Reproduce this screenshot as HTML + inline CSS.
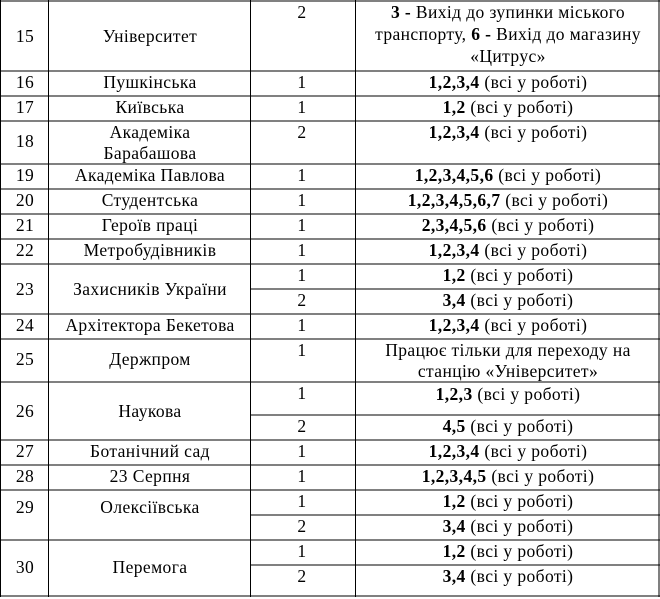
<!DOCTYPE html>
<html><head><meta charset="utf-8"><style>
html,body{margin:0;padding:0;background:#fff;width:660px;height:599px;overflow:hidden}
svg{display:block}
text{font-family:"Liberation Serif","DejaVu Serif","Noto Serif CJK SC",serif;font-size:17.5px;letter-spacing:0.4px;fill:#000}
.b{font-weight:bold}
</style></head><body>
<svg width="660" height="599" xmlns="http://www.w3.org/2000/svg">
<g stroke="#000" stroke-width="1.3" shape-rendering="crispEdges">
<line x1="0.5" y1="0" x2="0.5" y2="597"/>
<line x1="48.5" y1="0" x2="48.5" y2="597"/>
<line x1="250.5" y1="0" x2="250.5" y2="597"/>
<line x1="355.5" y1="0" x2="355.5" y2="597"/>
<line x1="659" y1="0" x2="659" y2="597"/>
<line x1="0" y1="1" x2="660" y2="1"/>
<line x1="0" y1="71" x2="660" y2="71"/>
<line x1="0" y1="96" x2="660" y2="96"/>
<line x1="0" y1="121" x2="660" y2="121"/>
<line x1="0" y1="164" x2="660" y2="164"/>
<line x1="0" y1="189" x2="660" y2="189"/>
<line x1="0" y1="214" x2="660" y2="214"/>
<line x1="0" y1="239" x2="660" y2="239"/>
<line x1="0" y1="264" x2="660" y2="264"/>
<line x1="250" y1="289" x2="660" y2="289"/>
<line x1="0" y1="314" x2="660" y2="314"/>
<line x1="0" y1="339" x2="660" y2="339"/>
<line x1="0" y1="382" x2="660" y2="382"/>
<line x1="250" y1="415" x2="660" y2="415"/>
<line x1="0" y1="440" x2="660" y2="440"/>
<line x1="0" y1="465" x2="660" y2="465"/>
<line x1="0" y1="490" x2="660" y2="490"/>
<line x1="250" y1="515" x2="660" y2="515"/>
<line x1="0" y1="540" x2="660" y2="540"/>
<line x1="250" y1="565" x2="660" y2="565"/>
<line x1="0" y1="596" x2="660" y2="596"/>
</g>
<g text-anchor="middle">
<text x="25" y="42">15</text>
<text x="25" y="88">16</text>
<text x="25" y="113">17</text>
<text x="25" y="147">18</text>
<text x="25" y="181">19</text>
<text x="25" y="206">20</text>
<text x="25" y="231">21</text>
<text x="25" y="256">22</text>
<text x="25" y="295">23</text>
<text x="25" y="331">24</text>
<text x="25" y="365">25</text>
<text x="25" y="417">26</text>
<text x="25" y="457">27</text>
<text x="25" y="482">28</text>
<text x="25" y="513">29</text>
<text x="25" y="573">30</text>
<text x="150" y="42">Університет</text>
<text x="150" y="88">Пушкінська</text>
<text x="150" y="113">Київська</text>
<text x="150" y="138">Академіка</text>
<text x="150" y="159">Барабашова</text>
<text x="150" y="181">Академіка Павлова</text>
<text x="150" y="206">Студентська</text>
<text x="150" y="231">Героїв праці</text>
<text x="150" y="256">Метробудівників</text>
<text x="150" y="295">Захисників України</text>
<text x="150" y="331">Архітектора Бекетова</text>
<text x="150" y="365">Держпром</text>
<text x="150" y="417">Наукова</text>
<text x="150" y="457">Ботанічний сад</text>
<text x="150" y="482">23 Серпня</text>
<text x="150" y="513">Олексіївська</text>
<text x="150" y="573">Перемога</text>
<text x="302" y="18">2</text>
<text x="302" y="88">1</text>
<text x="302" y="113">1</text>
<text x="302" y="138">2</text>
<text x="302" y="181">1</text>
<text x="302" y="206">1</text>
<text x="302" y="231">1</text>
<text x="302" y="256">1</text>
<text x="302" y="281">1</text>
<text x="302" y="306">2</text>
<text x="302" y="331">1</text>
<text x="302" y="356">1</text>
<text x="302" y="399">1</text>
<text x="302" y="432">2</text>
<text x="302" y="457">1</text>
<text x="302" y="482">1</text>
<text x="302" y="507">1</text>
<text x="302" y="532">2</text>
<text x="302" y="557">1</text>
<text x="302" y="582">2</text>
<text x="508" y="18"><tspan class="b">3 -</tspan> Вихід до зупинки міського</text>
<text x="508" y="40">транспорту,  <tspan class="b">6 -</tspan> Вихід до магазину</text>
<text x="508" y="62">«Цитрус»</text>
<text x="508" y="88"><tspan class="b">1,2,3,4</tspan> (всі у роботі)</text>
<text x="508" y="113"><tspan class="b">1,2</tspan> (всі у роботі)</text>
<text x="508" y="138"><tspan class="b">1,2,3,4</tspan> (всі у роботі)</text>
<text x="508" y="181"><tspan class="b">1,2,3,4,5,6</tspan> (всі у роботі)</text>
<text x="508" y="206"><tspan class="b">1,2,3,4,5,6,7</tspan> (всі у роботі)</text>
<text x="508" y="231"><tspan class="b">2,3,4,5,6</tspan> (всі у роботі)</text>
<text x="508" y="256"><tspan class="b">1,2,3,4</tspan> (всі у роботі)</text>
<text x="508" y="281"><tspan class="b">1,2</tspan> (всі у роботі)</text>
<text x="508" y="306"><tspan class="b">3,4</tspan> (всі у роботі)</text>
<text x="508" y="331"><tspan class="b">1,2,3,4</tspan> (всі у роботі)</text>
<text x="508" y="356">Працює тільки для переходу на</text>
<text x="508" y="377">станцію «Університет»</text>
<text x="508" y="400"><tspan class="b">1,2,3</tspan> (всі у роботі)</text>
<text x="508" y="432"><tspan class="b">4,5</tspan> (всі у роботі)</text>
<text x="508" y="457"><tspan class="b">1,2,3,4</tspan> (всі у роботі)</text>
<text x="508" y="482"><tspan class="b">1,2,3,4,5</tspan> (всі у роботі)</text>
<text x="508" y="507"><tspan class="b">1,2</tspan> (всі у роботі)</text>
<text x="508" y="532"><tspan class="b">3,4</tspan> (всі у роботі)</text>
<text x="508" y="557"><tspan class="b">1,2</tspan> (всі у роботі)</text>
<text x="508" y="582"><tspan class="b">3,4</tspan> (всі у роботі)</text>
</g>
</svg>
</body></html>
